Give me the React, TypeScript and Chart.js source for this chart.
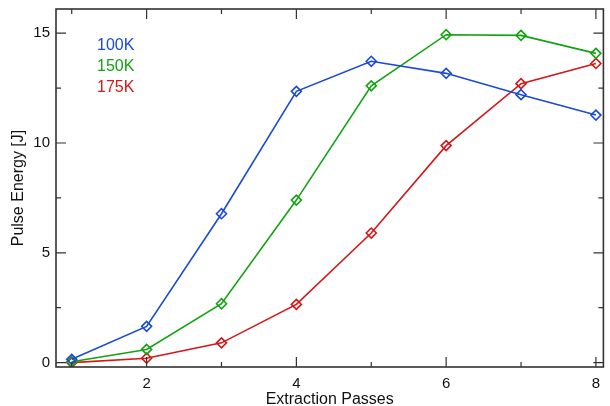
import React, { useEffect, useRef } from "react";
import { Chart, registerables } from "chart.js";
Chart.register(...registerables);

const passes = [1, 2, 3, 4, 5, 6, 7, 8];
const energy100K = [0.15, 1.65, 6.78, 12.35, 13.72, 13.17, 12.2, 11.27];
const energy150K = [0.04, 0.6, 2.68, 7.4, 12.6, 14.93, 14.9, 14.08];
const energy175K = [0.0, 0.2, 0.9, 2.65, 5.9, 9.88, 12.7, 13.62];
const seriesNames = ["100K", "150K", "175K"];
const seriesColors = ["#1a4ad8", "#12a312", "#d41717"];
const xMajorTicks = [2, 4, 6, 8];
const xMinorTicks = [1, 3, 5, 7];
const yMajorTicks = [0, 5, 10, 15];
const yMinorTicks = [2.5, 7.5, 12.5];

const FONT = "'Liberation Sans', Arial, Helvetica, sans-serif";

const framePlugin = {
  id: "frameTicks",
  afterDatasetsDraw(chart: any) {
    const { ctx, chartArea } = chart;
    const { left, right, top, bottom } = chartArea;
    const xs = chart.scales.x;
    const ys = chart.scales.y;
    ctx.save();
    ctx.strokeStyle = "#333";
    ctx.lineWidth = 1.6;
    ctx.strokeRect(left, top, right - left, bottom - top);
    ctx.lineWidth = 1.2;
    const majorLen = 10;
    const minorLen = 5;
    ctx.beginPath();
    const xTick = (v: number, len: number) => {
      const p = xs.getPixelForValue(v);
      ctx.moveTo(p, bottom);
      ctx.lineTo(p, bottom - len);
      ctx.moveTo(p, top);
      ctx.lineTo(p, top + len);
    };
    const yTick = (v: number, len: number) => {
      const p = ys.getPixelForValue(v);
      ctx.moveTo(left, p);
      ctx.lineTo(left + len, p);
      ctx.moveTo(right, p);
      ctx.lineTo(right - len, p);
    };
    xMajorTicks.forEach((v) => xTick(v, majorLen));
    xMinorTicks.forEach((v) => xTick(v, minorLen));
    yMajorTicks.forEach((v) => yTick(v, majorLen));
    yMinorTicks.forEach((v) => yTick(v, minorLen));
    ctx.stroke();

    ctx.font = `16px ${FONT}`;
    ctx.textAlign = "left";
    ctx.textBaseline = "alphabetic";
    seriesNames.forEach((name, i) => {
      ctx.fillStyle = seriesColors[i];
      ctx.fillText(name, left + 41, top + 41 + i * 21);
    });
    ctx.restore();
  },
};

export default function App() {
  const ref = useRef<HTMLCanvasElement>(null);
  useEffect(() => {
    if (!ref.current) return;
    const mk = (label: string, data: number[], color: string) => ({
      label,
      data: passes.map((x, i) => ({ x, y: data[i] })),
      borderColor: color,
      backgroundColor: "rgba(255,255,255,0)",
      borderWidth: 1.6,
      pointStyle: "rectRot",
      pointRadius: 5,
      pointBorderWidth: 1.6,
      pointBorderColor: color,
      pointBackgroundColor: "rgba(255,255,255,0)",
      tension: 0,
    });
    const chart = new Chart(ref.current, {
      type: "line",
      data: {
        datasets: [
          mk(seriesNames[0], energy100K, seriesColors[0]),
          mk(seriesNames[1], energy150K, seriesColors[1]),
          mk(seriesNames[2], energy175K, seriesColors[2]),
        ],
      },
      plugins: [framePlugin],
      options: {
        animation: false,
        responsive: false,
        maintainAspectRatio: false,
        layout: { padding: { top: 9, right: 6, left: 0, bottom: 0 } },
        plugins: { legend: { display: false }, tooltip: { enabled: false } },
        scales: {
          x: {
            type: "linear",
            min: 0.79,
            max: 8.1,
            grid: { display: false, drawTicks: false },
            border: { display: false },
            afterBuildTicks: (s: any) => {
              s.ticks = xMajorTicks.map((v) => ({ value: v }));
            },
            afterFit: (s: any) => {
              s.height = 39;
              s.paddingLeft = 0;
              s.paddingRight = 0;
            },
            ticks: {
              color: "#111",
              font: { family: FONT, size: 15 },
              padding: 8,
              maxRotation: 0,
            },
            title: {
              display: true,
              text: "Extraction Passes",
              color: "#111",
              font: { family: FONT, size: 16, lineHeight: 1 },
              padding: { top: 0, bottom: -2 },
            },
          },
          y: {
            type: "linear",
            min: -0.2,
            max: 16.1,
            grid: { display: false, drawTicks: false },
            border: { display: false },
            afterBuildTicks: (s: any) => {
              s.ticks = yMajorTicks.map((v) => ({ value: v }));
            },
            afterFit: (s: any) => {
              s.width = 56;
              s.paddingTop = 0;
              s.paddingBottom = 0;
            },
            ticks: {
              color: "#111",
              font: { family: FONT, size: 15 },
              padding: 6,
            },
            title: {
              display: true,
              text: "Pulse Energy [J]",
              color: "#111",
              font: { family: FONT, size: 16, lineHeight: 1 },
              padding: { top: 11, bottom: 0 },
            },
          },
        },
      },
    } as any);
    return () => chart.destroy();
  }, []);
  return (
    <div style={{ position: "absolute", left: 0, top: 0, width: 610, height: 406, background: "#fff" }}>
      <canvas ref={ref} width={610} height={406} style={{ width: 610, height: 406, display: "block" }} />
    </div>
  );
}
